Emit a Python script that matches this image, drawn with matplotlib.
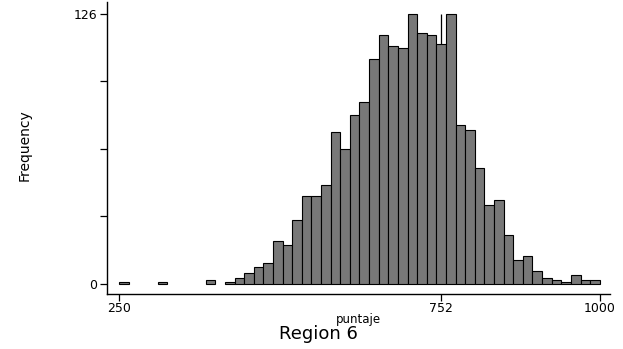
import numpy as np
import matplotlib
matplotlib.use("Agg")
import matplotlib.pyplot as plt

# Histogram of puntaje (bin width 15, starting at 250)
bin_start = 250
bin_width = 15
counts = [1, 0, 0, 0, 1, 0, 0, 0, 0, 2,
          0, 1, 3, 5, 8, 10, 20, 18, 30, 41,
          41, 46, 71, 63, 79, 85, 105, 116, 111, 110,
          126, 117, 116, 112, 126, 74, 72, 54, 37, 39,
          23, 11, 13, 6, 3, 2, 1, 4, 2, 2]
x_ticks = [250, 752, 1000]
y_labels = {0: "0", 126: "126"}
ref_line = 752
y_max = 126

counts = np.array(counts)
lefts = bin_start + bin_width * np.arange(len(counts))
mask = counts > 0

plt.rcParams['font.family'] = ['DejaVu Sans']

W, H = 623, 349
fig = plt.figure(figsize=(W / 100, H / 100), dpi=100)
ax = fig.add_axes([107 / W, 1 - 294 / H, (610 - 107) / W, (294 - 2) / H])

ax.vlines(ref_line, 0, y_max, color='black', linewidth=0.9, zorder=1)
ax.bar(lefts[mask], counts[mask], width=bin_width, align='edge',
       color='#787878', edgecolor='black', linewidth=0.8, zorder=2)

ax.set_xlim(231, 1016)
ax.set_ylim(-4.67, 131.6)

ax.spines['top'].set_visible(False)
ax.spines['right'].set_visible(False)
for s in ('left', 'bottom'):
    ax.spines[s].set_linewidth(1.0)

ax.set_xticks(x_ticks)
ax.set_xticklabels([str(v) for v in x_ticks])
yt = np.linspace(0, y_max, 5)
ax.set_yticks(yt)
ax.set_yticklabels([y_labels.get(int(v), "") if float(v).is_integer() else "" for v in yt])
ax.tick_params(axis='both', direction='out', length=5, width=0.9,
               labelsize=9, colors='black')
ax.tick_params(axis='x', pad=1)
ax.tick_params(axis='y', pad=2)

fig.text(358 / W, 1 - 323 / H, "puntaje", ha='center', va='baseline',
         fontsize=8.5)
fig.text(25 / W, 1 - 145 / H, "Frequency", rotation=90,
         ha='center', va='center', fontsize=10)
fig.text(318 / W, 1 - 339 / H, "Region 6", ha='center', va='baseline',
         fontsize=13)

fig.savefig("out.png", dpi=100)
